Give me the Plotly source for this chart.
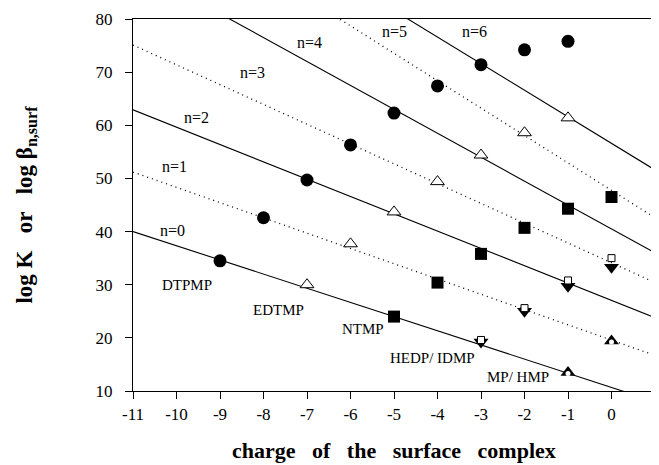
import plotly.graph_objects as go

# ---- data ----
line_n = [0, 1, 2, 3, 4, 5, 6]
line_y_at_xmin = [40.0, 51.2, 62.9, 75.1, 90.0, 104.5, 111.6]   # value at x=-11
line_y_at_xmax = [8.0, 16.7, 23.8, 30.4, 36.0, 42.6, 51.6]      # value at x=1
line_x_ends = [-11, 1]

n_label_x = [-10.1, -10.05, -9.55, -8.25, -6.95, -5.0, -3.15]
n_label_y = [40.2, 52.2, 61.5, 70.0, 75.6, 77.7, 77.7]

dtpmp_x = [-9, -8, -7, -6, -5, -4, -3, -2, -1]
dtpmp_y = [34.5, 42.6, 49.7, 56.3, 62.3, 67.4, 71.4, 74.2, 75.8]

edtmp_x = [-7, -6, -5, -4, -3, -2, -1]
edtmp_y = [30.0, 37.7, 43.7, 49.4, 54.4, 58.6, 61.4]

ntmp_x = [-5, -4, -3, -2, -1, 0]
ntmp_y = [24.0, 30.4, 35.8, 40.7, 44.3, 46.5]

hedp_x = [-3, -2, -1, 0]
hedp_y = [19.2, 25.0, 29.7, 33.3]

idmp_x = [-3, -2, -1, 0]
idmp_y = [19.6, 25.6, 30.8, 35.0]

mp_x = [-1, 0]
mp_y = [13.5, 19.4]

hmp_x = [-1, 0]
hmp_y = [13.3, 19.2]

name_labels = ["DTPMP", "EDTMP", "NTMP", "HEDP/ IDMP", "MP/ HMP"]
name_label_x = [-9.75, -7.65, -5.72, -4.12, -2.15]
name_label_y = [30.0, 25.3, 21.6, 16.3, 12.7]

x_ticks = list(range(-11, 2))
y_ticks = [10, 20, 30, 40, 50, 60, 70, 80]

x_title = "charge&nbsp;&nbsp; of&nbsp;&nbsp; the&nbsp;&nbsp; surface&nbsp;&nbsp; complex"
y_title = "log&nbsp;K&nbsp;&nbsp; or&nbsp;&nbsp; log&nbsp;β<sub>n,surf</sub>"

FONT = "Liberation Serif"

fig = go.Figure()

for i, n in enumerate(line_n):
    fig.add_trace(go.Scatter(
        x=line_x_ends, y=[line_y_at_xmin[i], line_y_at_xmax[i]],
        mode="lines",
        line=dict(color="black", width=1.1 if n % 2 == 0 else 1.3,
                  dash="solid" if n % 2 == 0 else "1px,4px"),
        showlegend=False, hoverinfo="skip"))

fig.add_trace(go.Scatter(x=dtpmp_x, y=dtpmp_y, mode="markers",
    marker=dict(symbol="circle", size=13, color="black"), showlegend=False))
fig.add_trace(go.Scatter(x=edtmp_x, y=edtmp_y, mode="markers",
    marker=dict(symbol="triangle-up", size=12, color="white",
                line=dict(color="black", width=1)), showlegend=False))
fig.add_trace(go.Scatter(x=ntmp_x, y=ntmp_y, mode="markers",
    marker=dict(symbol="square", size=12, color="black"), showlegend=False))
fig.add_trace(go.Scatter(x=hedp_x, y=hedp_y, mode="markers",
    marker=dict(symbol="triangle-down", size=13, color="black"), showlegend=False))
fig.add_trace(go.Scatter(x=idmp_x, y=idmp_y, mode="markers",
    marker=dict(symbol="square", size=7, color="white",
                line=dict(color="black", width=1)), showlegend=False))
fig.add_trace(go.Scatter(x=mp_x, y=mp_y, mode="markers",
    marker=dict(symbol="triangle-up", size=13, color="black"), showlegend=False))
fig.add_trace(go.Scatter(x=hmp_x, y=hmp_y, mode="markers",
    marker=dict(symbol="circle", size=5, color="white"), showlegend=False))

for i, n in enumerate(line_n):
    fig.add_annotation(x=n_label_x[i], y=n_label_y[i], text=f"n={n}",
                       showarrow=False, font=dict(family=FONT, size=16, color="black"))
for t, x, y in zip(name_labels, name_label_x, name_label_y):
    fig.add_annotation(x=x, y=y, text=t, showarrow=False,
                       font=dict(family=FONT, size=15, color="black"))

# x axis title placed as a paper annotation
fig.add_annotation(xref="paper", yref="paper", x=0.5, y=0, xanchor="center",
                   yanchor="middle", yshift=-59, showarrow=False,
                   text=f"<b>{x_title}</b>", font=dict(family=FONT, size=22, color="black"))

axis_common = dict(showline=True, linecolor="black", linewidth=1, mirror=True,
                   ticks="outside", ticklen=7, tickcolor="black", tickwidth=1,
                   showgrid=False, zeroline=False,
                   tickfont=dict(family=FONT, size=17, color="black"))

fig.update_xaxes(range=[-11, 1], tickvals=x_ticks, ticktext=[str(v) for v in x_ticks],
                 ticklabelstandoff=1, ticklabeloverflow="allow",
                 **axis_common)
fig.update_yaxes(range=[10, 80], tickvals=y_ticks, ticklabelstandoff=9,
                 title=dict(text=f"<b>{y_title}</b>",
                            font=dict(family=FONT, size=23, color="black"), standoff=56),
                 **axis_common)

# the page body adds an 8px margin; the figure's right and bottom run past the window edge
fig.update_layout(width=659, height=465,
                  margin=dict(l=125, r=12, t=11, b=82, autoexpand=False),
                  paper_bgcolor="white", plot_bgcolor="white")

fig.write_html("out.html")
